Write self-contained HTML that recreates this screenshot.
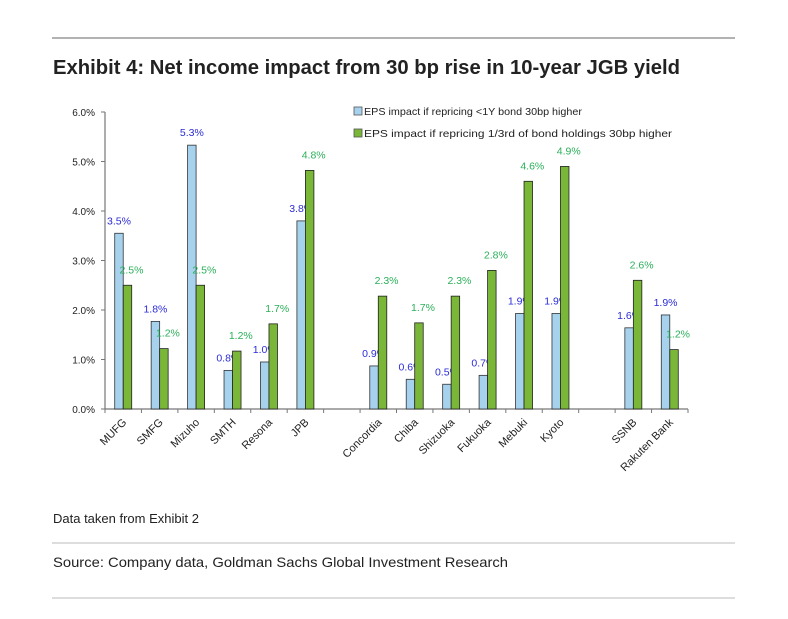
<!DOCTYPE html>
<html><head><meta charset="utf-8"><style>
body{margin:0;background:#fff;}
svg{display:block;font-family:"Liberation Sans",sans-serif;}
</style></head><body>
<svg id="c" width="788" height="619">
<line x1="52" y1="38" x2="735" y2="38" stroke="#999" stroke-width="1.5"/>
<text x="53" y="74" font-size="20" font-weight="bold" fill="#222" textLength="627" lengthAdjust="spacingAndGlyphs">Exhibit 4: Net income impact from 30 bp rise in 10-year JGB yield</text>
<g id="plot"></g>
<rect x="354" y="107" width="8" height="8" fill="#a6d2ee" stroke="#555" stroke-width="0.8"/>
<text x="364" y="115" font-size="10.5" fill="#222" textLength="218" lengthAdjust="spacingAndGlyphs">EPS impact if repricing &lt;1Y bond 30bp higher</text>
<rect x="354" y="129" width="8" height="8" fill="#7ab637" stroke="#555" stroke-width="0.8"/>
<text x="364" y="137" font-size="10.5" fill="#222" textLength="308" lengthAdjust="spacingAndGlyphs">EPS impact if repricing 1/3rd of bond holdings 30bp higher</text>
<text x="53" y="523" font-size="13" fill="#222">Data taken from Exhibit 2</text>
<line x1="52" y1="543" x2="735" y2="543" stroke="#bbb" stroke-width="1"/>
<text x="53" y="567" font-size="14" fill="#222" textLength="455" lengthAdjust="spacingAndGlyphs">Source: Company data, Goldman Sachs Global Investment Research</text>
<line x1="52" y1="598" x2="735" y2="598" stroke="#bbb" stroke-width="1"/>
</svg>
<script>
const categories=["MUFG","SMFG","Mizuho","SMTH","Resona","JPB","","Concordia","Chiba","Shizuoka","Fukuoka","Mebuki","Kyoto","","SSNB","Rakuten Bank"];
const shortBond=[3.55,1.77,5.33,0.78,0.95,3.8,null,0.87,0.6,0.5,0.68,1.93,1.93,null,1.64,1.9];
const thirdHoldings=[2.5,1.22,2.5,1.17,1.72,4.82,null,2.28,1.74,2.28,2.8,4.6,4.9,null,2.6,1.2];
const shortLabels=["3.5%","1.8%","5.3%","0.8%","1.0%","3.8%","","0.9%","0.6%","0.5%","0.7%","1.9%","1.9%","","1.6%","1.9%"];
const thirdLabels=["2.5%","1.2%","2.5%","1.2%","1.7%","4.8%","","2.3%","1.7%","2.3%","2.8%","4.6%","4.9%","","2.6%","1.2%"];
const yTicks=[0,1,2,3,4,5,6];
const NS="http://www.w3.org/2000/svg";
const g=document.getElementById('plot');
const x0=105,x1=688,y0=409,y1=112,ymax=6;
const slot=(x1-x0)/categories.length;
const X=i=>x0+slot*(i+0.5);
const Y=v=>y0-(v/ymax)*(y0-y1);
function mk(t,a){const e=document.createElementNS(NS,t);for(const k in a)e.setAttribute(k,a[k]);g.appendChild(e);return e;}
yTicks.forEach(t=>{
 const l=mk('line',{x1:x0-4,x2:x0,y1:Y(t),y2:Y(t),stroke:'#777'});
 
 
 const tx=mk('text',{x:x0-10,y:Y(t)+4,'font-size':'10','text-anchor':'end',fill:'#222'});
 tx.textContent=t.toFixed(1)+'%';
 
 
});
const ya=mk('line',{x1:x0,x2:x0,y1:y1,y2:y0,stroke:'#777','stroke-width':1.2});


const xa=mk('line',{x1:x0,x2:x1,y1:y0,y2:y0,stroke:'#777','stroke-width':1.2});


for(let i=0;i<=categories.length;i++){
 const t=mk('line',{x1:x0+slot*i,x2:x0+slot*i,y1:y0,y2:y0+4,stroke:'#777'});
 
 
}
const bw=8.5;
categories.forEach((c,i)=>{
 const cx=X(i);
 if(c){
  const tx=mk('text',{x:cx+4,y:y0+14,'font-size':'11','text-anchor':'end',fill:'#222',transform:`rotate(-45 ${cx+4} ${y0+14})`});
  tx.textContent=c;
  
  
 }
 if(shortBond[i]!=null){
  const b=mk('rect',{x:cx-bw,y:Y(shortBond[i]),width:bw,height:y0-Y(shortBond[i]),fill:'#a6d2ee',stroke:'#333','stroke-width':0.8});
  
  
  const l=mk('text',{x:cx-bw/2,y:Y(shortBond[i])-9,'font-size':'10.5','text-anchor':'middle',fill:'#2b2bd9'});
  l.textContent=shortLabels[i];
  
  
 }
 if(thirdHoldings[i]!=null){
  const b=mk('rect',{x:cx,y:Y(thirdHoldings[i]),width:bw,height:y0-Y(thirdHoldings[i]),fill:'#7ab637',stroke:'#222','stroke-width':0.8});
  
  
  const l=mk('text',{x:cx+bw/2+4,y:Y(thirdHoldings[i])-12,'font-size':'10.5','text-anchor':'middle',fill:'#2bb05a'});
  l.textContent=thirdLabels[i];
  
  
 }
});
</script>
</body></html>
